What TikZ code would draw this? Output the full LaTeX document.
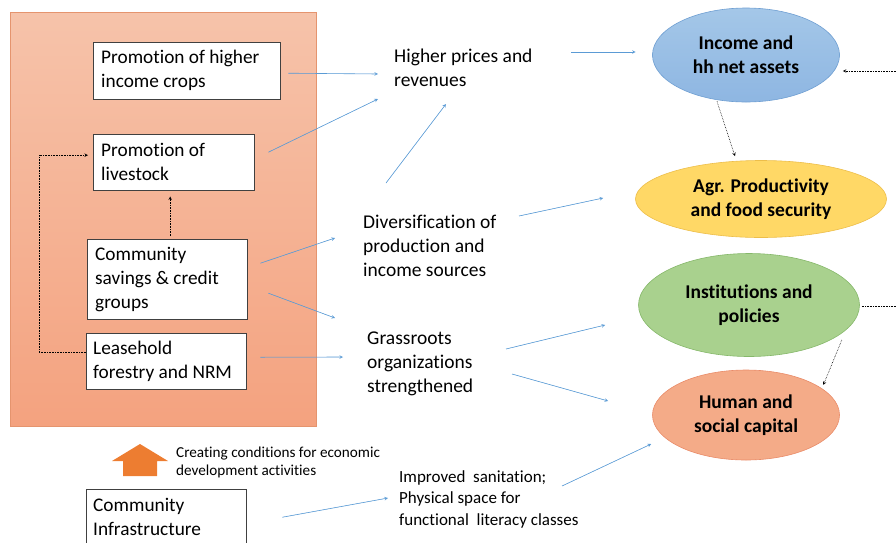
\documentclass[tikz,border=0pt]{standalone}
\usepackage{fontspec}
\setmainfont{Carlito}[Ligatures={NoCommon}]
\usetikzlibrary{calc}
\usetikzlibrary{arrows}
\usetikzlibrary{shapes.geometric}
\definecolor{flowblue}{HTML}{5B9BD5}
\definecolor{panelTop}{HTML}{F6C3AA}
\definecolor{panelBot}{HTML}{F4A27F}
\definecolor{panelLine}{HTML}{E5946E}
\definecolor{blobBlue}{HTML}{A4C7E8}
\definecolor{blobBlueD}{HTML}{8EB6E2}
\definecolor{blobBlueL}{HTML}{6F9FD2}
\definecolor{blobYel}{HTML}{FFD866}
\definecolor{blobYelL}{HTML}{EDBE4A}
\definecolor{blobGrn}{HTML}{A9D18E}
\definecolor{blobGrnL}{HTML}{86B86A}
\definecolor{blobOra}{HTML}{F4AB88}
\definecolor{blobOraL}{HTML}{E98B68}
\definecolor{bigArrow}{HTML}{ED7D31}

\begin{document}
\begin{tikzpicture}[x=1pt,y=-1pt,
    box/.style={draw=black!75,fill=white,rectangle,anchor=north west,
        inner xsep=8pt,inner ysep=0pt,align=flush left,
        font=\fontsize{19.3}{24}\selectfont},
    txt/.style={anchor=base west,inner sep=0pt,align=flush left,
        font=\fontsize{19.5}{24}\selectfont},
    small/.style={anchor=base west,inner sep=0pt,align=flush left},
    blob/.style={ellipse,inner sep=0pt,align=center,line width=0.6pt,
        font=\fontsize{19.5}{24}\selectfont\bfseries},
    flow/.style={->,>=stealth,draw=flowblue,fill=flowblue,line width=0.6pt},
    link/.style={->,>=stealth,densely dotted,line width=0.6pt}]

\useasboundingbox (0,0) rectangle (896,542);

% panel
\shade[top color=panelTop,bottom color=panelBot,draw=panelLine,line width=0.6pt]
    (10,12) rectangle (316,426);

% boxes
\node[box,text width=171pt,minimum height=57pt] (crops) at (93,42)
    {Promotion of higher\\income crops};
\node[box,text width=145pt,minimum height=56pt] (stock) at (93,134)
    {Promotion of\\livestock};
\node[box,text width=144pt,minimum height=80pt,inner xsep=8pt] (savings) at (87,239)
    {Community\\savings \& credit\\groups};
\node[box,text width=146pt,minimum height=56pt,inner xsep=7pt] (lease) at (86,333)
    {Leasehold\\forestry and NRM};
\node[box,text width=146pt,minimum height=56pt,inner xsep=7pt] (infra) at (86,489)
    {Community\\Infrastructure};

% outcomes (anchored on the last baseline)
\node[txt] (higher) at (394,86.5) {Higher prices and\\revenues};
\node[txt] (divers) at (363,276.5) {Diversification of\\production and\\income sources};
\node[txt] (grass) at (367,392.5) {Grassroots\\organizations\\strengthened};
\node[small,font=\fontsize{17}{21.5}\selectfont] (improved) at (399,525)
    {Improved~ sanitation;\\Physical space for\\functional~ literacy classes};
\node[small,font=\fontsize{15.2}{18}\selectfont] (creating) at (176,475)
    {Creating conditions for economic\\development activities};

% impacts
\node[blob,top color=blobBlue,bottom color=blobBlueD,draw=blobBlueL,
    minimum width=187pt,minimum height=94pt]
    (income) at (746,55) {Income and\\hh net assets};
\node[blob,fill=blobYel,draw=blobYelL,minimum width=251pt,minimum height=77pt]
    (agr) at (761,199) {Agr. Productivity\\and food security};
\node[blob,fill=blobGrn,draw=blobGrnL,minimum width=221pt,minimum height=103pt]
    (inst) at (749,305) {Institutions and\\policies};
\node[blob,fill=blobOra,draw=blobOraL,minimum width=187pt,minimum height=90pt]
    (human) at (746,415) {Human and\\social capital};

\fill[bigArrow] (123,476) -- (123,461) -- (112,461) -- (140,444)
    -- (168,461) -- (157,461) -- (157,476) -- cycle;

% blue links
\draw[flow] ([shift={(8,2.5)}]crops.east) -- ([shift={(-16,-12.5)}]higher.base west);
\draw[flow] ([shift={(14,-10)}]stock.east) -- ([shift={(-16,12.5)}]higher.base west);
\draw[flow] ([shift={(23,-93.5)}]divers.base west) -- ([shift={(52,17.5)}]higher.base west);
\draw[flow] ([shift={(177,-34.5)}]higher.base west) -- ([shift={(-16.5,-3)}]income.west);
\draw[flow] ([shift={(13,-16)}]savings.east) -- ([shift={(-28,-38.5)}]divers.base west);
\draw[flow] ([shift={(21,14)}]savings.east) -- ([shift={(-32,-74.5)}]grass.base west);
\draw[flow] ([shift={(14,-4)}]lease.east) -- ([shift={(-24,-35.5)}]grass.base west);
\draw[flow] ([shift={(156,-60.5)}]divers.base west) -- ([shift={(-32,-1)}]agr.west);
\draw[flow] ([shift={(139,-43.5)}]grass.base west) -- ([shift={(-33,20)}]inst.west);
\draw[flow] ([shift={(145,-18.5)}]grass.base west) -- ([shift={(-44,-14)}]human.west);
\draw[flow] ([shift={(36,0)}]infra.east) -- ([shift={(-11,-27)}]improved.base west);
\draw[flow] ([shift={(163,-39)}]improved.base west) -- ([shift={(-1,29)}]human.west);

% dotted links
\coordinate (loopA) at (896,71);
\coordinate (loopB) at (896,306);
\draw[link] ([shift={(-29,-1)}]income.south) -- ([shift={(-26,-4)}]agr.north);
\draw[link] (loopA) -- ([shift={(3,16)}]income.east);
\draw[densely dotted,line width=0.6pt] ([shift={(2,1)}]inst.east) -- (loopB);
\draw[link] ([shift={(-18,35)}]inst.east) -- ([shift={(11,2)}]human.north east);
\draw[link] ([shift={(3,-3)}]savings.north) -- ([shift={(-3.5,6)}]stock.south);
\draw[link] ([yshift=9pt]lease.west) -- ++(-47,0) |- ([shift={(-5,-7)}]stock.west);

\end{tikzpicture}
\end{document}
